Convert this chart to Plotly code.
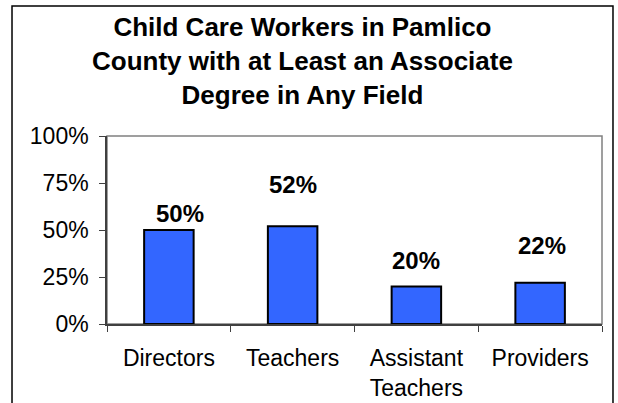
import plotly.graph_objects as go

categories = ["Directors", "Teachers", "Assistant<br>Teachers", "Providers"]
values = [0.50, 0.52, 0.20, 0.22]
value_labels = ["50%", "52%", "20%", "22%"]
tick_vals = [0, 0.25, 0.5, 0.75, 1.0]
tick_text = ["0%", "25%", "50%", "75%", "100%"]
title_text = "Child Care Workers in Pamlico<br>County with at Least an Associate<br>Degree in Any Field"

# label placement tweaks (pixels)
label_yshift = [1, 26, 10, 22]
label_xshift = [11, 0, 0, 2]

FONT = "Liberation Sans, Arial, sans-serif"

fig = go.Figure()
fig.add_trace(go.Bar(
    x=categories, y=values,
    width=0.4,
    marker=dict(color="#3366FF", line=dict(color="#000000", width=2)),
    hoverinfo="skip",
))

for c, v, t, dy, dx in zip(categories, values, value_labels, label_yshift, label_xshift):
    fig.add_annotation(x=c, y=v, text="<b>%s</b>" % t, showarrow=False,
                       xref="x", yref="y", yanchor="bottom", yshift=dy, xshift=dx,
                       font=dict(family=FONT, size=24, color="#000000"))

fig.add_annotation(x=0.394, y=1.668, xref="paper", yref="paper",
                   text="<b>%s</b>" % title_text, showarrow=False,
                   xanchor="center", yanchor="top", align="center",
                   font=dict(family=FONT, size=26, color="#000000"))

# outer chart frame
fig.add_shape(type="rect", xref="paper", yref="paper",
              x0=-0.1919, x1=1.0222, y0=-0.7, y1=1.6915,
              line=dict(color="#000000", width=1.5), layer="below")
# plot area frame
fig.add_shape(type="rect", xref="paper", yref="paper",
              x0=0, x1=1, y0=0, y1=1,
              line=dict(color="#808080", width=1.5), layer="below")

fig.update_layout(
    width=618, height=403,
    margin=dict(l=107, r=16, t=136, b=79, autoexpand=False),
    paper_bgcolor="white", plot_bgcolor="white",
    showlegend=False,
    font=dict(family=FONT, size=23, color="#000000"),
    bargap=0.6,
)
fig.update_xaxes(
    type="category", tickson="boundaries", automargin=False,
    ticks="outside", ticklen=6, tickcolor="#404040",
    showline=True, linecolor="#404040", linewidth=1.5,
    showgrid=False, ticklabelstandoff=13,
    tickfont=dict(family=FONT, size=23, color="#000000"),
)
fig.update_yaxes(
    range=[0, 1], tickvals=tick_vals, ticktext=tick_text, automargin=False,
    ticks="outside", ticklen=6, tickcolor="#404040",
    showline=True, linecolor="#404040", linewidth=1.5,
    showgrid=False, zeroline=False, ticklabelstandoff=6,
    tickfont=dict(family=FONT, size=23, color="#000000"),
)

fig.write_html("out.html", config={"displayModeBar": False},
               post_script="document.body.style.margin='0';")
